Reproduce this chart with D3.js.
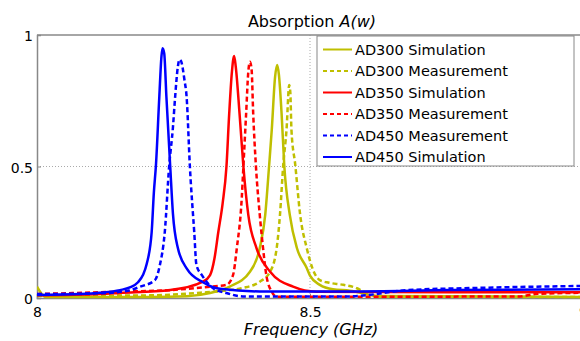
<!DOCTYPE html>
<html>
<head>
<meta charset="utf-8">
<script src="https://cdn.jsdelivr.net/npm/d3@7"></script>
<style>
  body { margin: 0; background: #fff; }
  text { font-family: "DejaVu Sans", Verdana, sans-serif; fill: #000; }
</style>
</head>
<body>
<div id="chart"></div>
<script>
var width = 580,
    height = 341;

// frequency (GHz), absorption
var ad300Sim = [
  [8.000, 0.043], [8.007, 0.02], [8.016, 0.004], [8.207, 0.004], [8.274, 0.007],
  [8.317, 0.019], [8.353, 0.043], [8.390, 0.10], [8.408, 0.19], [8.418, 0.316],
  [8.425, 0.50], [8.430, 0.64], [8.436, 0.84], [8.440, 0.886], [8.443, 0.85],
  [8.448, 0.70], [8.453, 0.50], [8.463, 0.316], [8.476, 0.19], [8.494, 0.114],
  [8.500, 0.085], [8.518, 0.05], [8.542, 0.033], [8.573, 0.028], [8.625, 0.008],
  [9.000, 0.004]
];
var ad300Meas = [
  [8.000, 0.008], [8.207, 0.01], [8.299, 0.02], [8.353, 0.03], [8.377, 0.038],
  [8.408, 0.062], [8.427, 0.10], [8.439, 0.19], [8.445, 0.316], [8.451, 0.506],
  [8.457, 0.64], [8.462, 0.81], [8.464, 0.78], [8.466, 0.64], [8.473, 0.506],
  [8.482, 0.316], [8.494, 0.19], [8.505, 0.11], [8.518, 0.068], [8.535, 0.058],
  [8.561, 0.05], [8.586, 0.037], [8.601, 0.02], [8.628, 0.005], [9.000, 0.004]
];
var ad350Sim = [
  [8.000, 0.01], [8.115, 0.015], [8.152, 0.019], [8.244, 0.03], [8.304, 0.062],
  [8.317, 0.087], [8.325, 0.15], [8.332, 0.25], [8.340, 0.36], [8.347, 0.50],
  [8.352, 0.70], [8.357, 0.86], [8.361, 0.92], [8.364, 0.88], [8.371, 0.70],
  [8.378, 0.50], [8.387, 0.316], [8.402, 0.19], [8.427, 0.10], [8.469, 0.043],
  [8.512, 0.024], [8.756, 0.022], [9.000, 0.022]
];
var ad350Meas = [
  [8.000, 0.015], [8.152, 0.024], [8.244, 0.03], [8.317, 0.043], [8.347, 0.05],
  [8.359, 0.087], [8.366, 0.19], [8.375, 0.38], [8.378, 0.50], [8.383, 0.70],
  [8.387, 0.86], [8.390, 0.898], [8.393, 0.87], [8.396, 0.70], [8.401, 0.50],
  [8.408, 0.316], [8.414, 0.19], [8.420, 0.087], [8.430, 0.024], [8.439, 0.005],
  [8.665, 0.005], [8.885, 0.006], [8.912, 0.015], [9.000, 0.02]
];
var ad450Meas = [
  [8.000, 0.015], [8.115, 0.018], [8.164, 0.027], [8.189, 0.043], [8.216, 0.068],
  [8.225, 0.125], [8.234, 0.25], [8.242, 0.50], [8.249, 0.65], [8.253, 0.765],
  [8.258, 0.88], [8.261, 0.907], [8.264, 0.90], [8.270, 0.83], [8.274, 0.765],
  [8.280, 0.50], [8.288, 0.25], [8.292, 0.125], [8.302, 0.087], [8.322, 0.038],
  [8.347, 0.019], [8.377, 0.006], [8.570, 0.006], [8.680, 0.03], [8.800, 0.038],
  [9.000, 0.046]
];
var ad450Sim = [
  [8.000, 0.011], [8.079, 0.015], [8.115, 0.02], [8.152, 0.03], [8.170, 0.04],
  [8.185, 0.06], [8.194, 0.087], [8.201, 0.13], [8.210, 0.25], [8.214, 0.40],
  [8.218, 0.51], [8.224, 0.765], [8.228, 0.92], [8.230, 0.95], [8.233, 0.93],
  [8.237, 0.765], [8.244, 0.50], [8.249, 0.32], [8.258, 0.19], [8.275, 0.11],
  [8.304, 0.06], [8.335, 0.035], [8.408, 0.025], [8.573, 0.025], [8.756, 0.03],
  [9.000, 0.033]
];

var seriesNames = ['AD300 Simulation', 'AD300 Measurement', 'AD350 Simulation',
                   'AD350 Measurement', 'AD450 Measurement', 'AD450 Simulation'];
var seriesData = [ad300Sim, ad300Meas, ad350Sim, ad350Meas, ad450Meas, ad450Sim];
var seriesColors = ['#bfbf00', '#bfbf00', '#ff0000', '#ff0000', '#0000ff', '#0000ff'];
var seriesDashed = [false, true, false, true, true, false];

var xTicks = [8, 8.5, 9],
    yTicks = [0, 0.5, 1];

var series = seriesNames.map(function(name, i) {
  return {name: name, values: seriesData[i], color: seriesColors[i], dashed: seriesDashed[i]};
});

var margin = {left: 37, top: 35, bottom: 298, right: 583};

var x = d3.scaleLinear().domain([8, 9]).range([margin.left, margin.right]);
var y = d3.scaleLinear().domain([0, 1]).range([margin.bottom, margin.top]);

var svg = d3.select('#chart').append('svg')
    .attr('width', width)
    .attr('height', height);

svg.append('defs').append('clipPath').attr('id', 'plot')
  .append('rect')
    .attr('x', margin.left).attr('y', margin.top - 2)
    .attr('width', margin.right - margin.left).attr('height', margin.bottom - margin.top + 4);

// grid (dotted)
svg.append('line')
    .attr('x1', x(8.5)).attr('x2', x(8.5))
    .attr('y1', y(1)).attr('y2', y(0))
    .attr('stroke', '#aaa').attr('stroke-dasharray', '1,2');
svg.append('line')
    .attr('x1', x(8)).attr('x2', x(9))
    .attr('y1', y(0.5)).attr('y2', y(0.5))
    .attr('stroke', '#aaa').attr('stroke-dasharray', '1,2');

// axes
var xAxis = d3.axisBottom(x).tickValues(xTicks).tickFormat(d3.format('')).tickSize(-4).tickPadding(9);
var yAxis = d3.axisLeft(y).tickValues(yTicks).tickFormat(d3.format('')).tickSize(-4).tickPadding(4);

var gx = svg.append('g').attr('transform', 'translate(0,' + margin.bottom + ')').call(xAxis);
var gy = svg.append('g').attr('transform', 'translate(' + margin.left + ',0)').call(yAxis);

[gx, gy].forEach(function(g) {
  g.select('.domain').attr('stroke', '#888').attr('stroke-width', 1.5);
  g.selectAll('.tick line').attr('stroke', '#888');
  g.selectAll('.tick text')
    .style('font-family', '"DejaVu Sans", Verdana, sans-serif')
    .style('font-size', '14px')
    .attr('fill', '#000');
});
gy.selectAll('.tick text').attr('dy', '0.4em');

// top border
svg.append('line')
    .attr('x1', margin.left).attr('x2', margin.right)
    .attr('y1', margin.top).attr('y2', margin.top)
    .attr('stroke', '#888').attr('stroke-width', 1.5);

// curves
var line = d3.line()
    .x(function(d) { return x(d[0]); })
    .y(function(d) { return y(d[1]); })
    .curve(d3.curveMonotoneX);

svg.append('g').attr('clip-path', 'url(#plot)')
  .selectAll('path')
  .data(series)
  .enter().append('path')
    .attr('d', function(d) { return line(d.values); })
    .attr('fill', 'none')
    .attr('stroke', function(d) { return d.color; })
    .attr('stroke-width', 2.5)
    .attr('stroke-dasharray', function(d) { return d.dashed ? '5,3' : null; });

// title and label
var title = svg.append('text')
    .attr('x', 312).attr('y', 27)
    .attr('text-anchor', 'middle')
    .style('font-size', '16px');
title.append('tspan').text('Absorption ');
title.append('tspan').style('font-style', 'italic').text('A(w)');

svg.append('text')
    .attr('x', 311).attr('y', 335)
    .attr('text-anchor', 'middle')
    .style('font-size', '16px')
    .style('font-style', 'italic')
    .text('Frequency (GHz)');

// legend
var legend = svg.append('g').attr('transform', 'translate(317,36)');
legend.append('rect')
    .attr('width', 257).attr('height', 130)
    .attr('fill', '#fff')
    .attr('stroke', '#888').attr('stroke-width', 1);

var item = legend.selectAll('g.item')
  .data(series)
  .enter().append('g')
    .attr('class', 'item')
    .attr('transform', function(d, i) { return 'translate(0,' + (13.5 + i * 21.5) + ')'; });

item.append('line')
    .attr('x1', 6).attr('x2', 35)
    .attr('stroke', function(d) { return d.color; })
    .attr('stroke-width', 2)
    .attr('stroke-dasharray', function(d) { return d.dashed ? '4,3' : null; });

item.append('text')
    .attr('x', 38).attr('dy', '0.36em')
    .style('font-size', '14.5px')
    .text(function(d) { return d.name; });
</script>
</body>
</html>
